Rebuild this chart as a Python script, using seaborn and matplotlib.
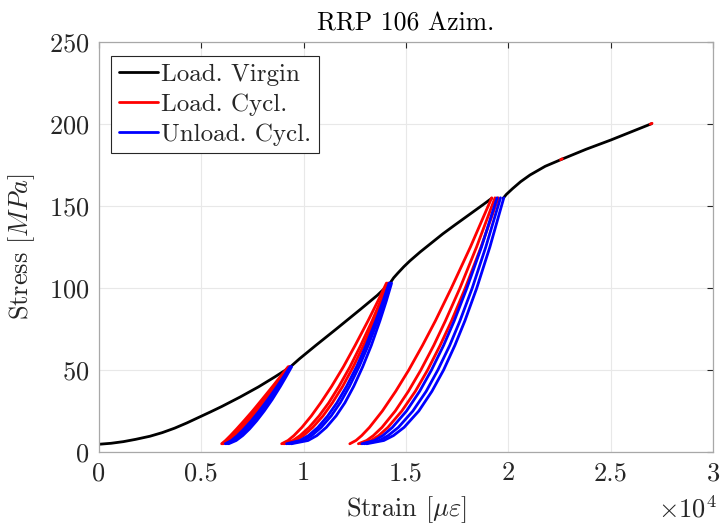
import matplotlib
matplotlib.use("Agg")
import matplotlib.pyplot as plt
import seaborn as sns
import pandas as pd

# strain in units of 1e4 micro-strain, stress in MPa

# virgin loading curve, split where the cyclic loops are
virgin_strain = [
    [0.0, 0.06, 0.12, 0.18, 0.25, 0.31, 0.37, 0.43, 0.49, 0.545, 0.60, 0.69, 0.78, 0.86, 0.933],
    [0.933, 0.98, 1.06, 1.16, 1.28, 1.36, 1.422],
    [1.422, 1.44, 1.46, 1.49, 1.52, 1.57, 1.62, 1.68, 1.74, 1.79, 1.84, 1.88, 1.919],
    [1.975, 1.99, 2.02, 2.06, 2.106, 2.18, 2.261, 2.38, 2.5, 2.6, 2.70],
]
virgin_stress = [
    [4.7, 5.3, 6.3, 7.7, 9.6, 11.8, 14.5, 17.7, 21.2, 24.4, 27.7, 33.5, 39.7, 45.8, 51.6],
    [51.6, 56.8, 65.0, 75.0, 87.2, 95.5, 102.9],
    [102.9, 106.2, 109.0, 113.0, 116.6, 122.0, 127.0, 133.0, 138.5, 143.0, 147.5, 151.1, 154.7],
    [154.7, 157.0, 160.5, 164.8, 168.9, 174.2, 178.5, 184.6, 190.2, 195.2, 200.2],
]

# cycle group 1 (peak ~52 MPa)
stress_g1 = [5, 7, 10, 14, 19, 25, 32, 40, 46, 52]
load_g1 = [
    [0.600, 0.619, 0.643, 0.673, 0.709, 0.751, 0.797, 0.849, 0.887, 0.925],
    [0.604, 0.626, 0.653, 0.684, 0.721, 0.762, 0.808, 0.858, 0.894, 0.930],
    [0.608, 0.634, 0.662, 0.695, 0.732, 0.773, 0.817, 0.865, 0.900, 0.934],
]
unload_g1 = [
    [0.618, 0.648, 0.677, 0.709, 0.745, 0.784, 0.826, 0.871, 0.903, 0.934],
    [0.626, 0.659, 0.690, 0.722, 0.758, 0.796, 0.837, 0.879, 0.909, 0.938],
    [0.634, 0.671, 0.703, 0.736, 0.771, 0.808, 0.847, 0.887, 0.915, 0.942],
]

# cycle group 2 (peak ~103 MPa)
stress_g2 = [5, 7, 10, 15, 22, 30, 40, 52, 65, 80, 92, 103]
load_g2 = [
    [0.893, 0.924, 0.953, 0.992, 1.038, 1.084, 1.137, 1.195, 1.252, 1.315, 1.363, 1.405],
    [0.900, 0.948, 0.983, 1.027, 1.076, 1.123, 1.173, 1.227, 1.279, 1.335, 1.376, 1.412],
    [0.906, 0.962, 1.000, 1.045, 1.095, 1.141, 1.191, 1.243, 1.293, 1.345, 1.384, 1.418],
]
unload_g2 = [
    [0.917, 0.983, 1.024, 1.070, 1.118, 1.163, 1.210, 1.259, 1.305, 1.353, 1.388, 1.418],
    [0.928, 0.999, 1.040, 1.086, 1.135, 1.179, 1.224, 1.271, 1.316, 1.362, 1.395, 1.424],
    [0.940, 1.022, 1.065, 1.111, 1.159, 1.202, 1.245, 1.289, 1.331, 1.373, 1.404, 1.430],
]

# cycle group 3 (peak ~155 MPa)
stress_g3 = [5, 7, 10, 15, 25, 37, 50, 65, 80, 100, 125, 155]
load_g3 = [
    [1.226, 1.256, 1.284, 1.322, 1.385, 1.450, 1.514, 1.581, 1.644, 1.722, 1.815, 1.919],
    [1.268, 1.308, 1.341, 1.383, 1.448, 1.512, 1.573, 1.636, 1.693, 1.764, 1.845, 1.935],
    [1.280, 1.330, 1.367, 1.412, 1.480, 1.546, 1.606, 1.667, 1.723, 1.790, 1.867, 1.951],
]
unload_g3 = [
    [1.285, 1.346, 1.387, 1.434, 1.503, 1.567, 1.625, 1.684, 1.736, 1.798, 1.869, 1.945],
    [1.296, 1.370, 1.413, 1.463, 1.534, 1.599, 1.656, 1.714, 1.764, 1.824, 1.890, 1.962],
    [1.308, 1.392, 1.439, 1.491, 1.563, 1.627, 1.684, 1.739, 1.788, 1.846, 1.910, 1.978],
]

# tiny red bits on the virgin curve
blip_strain = [[2.255, 2.264], [2.693, 2.702]]
blip_stress = [[178.2, 178.8], [199.9, 200.4]]

x_ticks = [0, 0.5, 1, 1.5, 2, 2.5, 3]
x_tick_labels = ["0", "0.5", "1", "1.5", "2", "2.5", "3"]
y_ticks = [0, 50, 100, 150, 200, 250]

kinds = ["Load. Virgin", "Load. Cycl.", "Unload. Cycl."]
colors = ["#000000", "#ff0000", "#0000ff"]

# build a long table: one row per point
rows = []


def add_curve(kind, name, xs, ys):
    for x, y in zip(xs, ys):
        rows.append({"strain": x, "stress": y, "kind": kind, "curve": name})


for k, (xs, ys) in enumerate(zip(virgin_strain, virgin_stress)):
    add_curve(kinds[0], f"v{k}", xs, ys)
for g, (stress, loads, unloads) in enumerate([(stress_g1, load_g1, unload_g1),
                                              (stress_g2, load_g2, unload_g2),
                                              (stress_g3, load_g3, unload_g3)]):
    for c, xs in enumerate(loads):
        add_curve(kinds[1], f"l{g}{c}", xs, stress)
    for c, xs in enumerate(unloads):
        add_curve(kinds[2], f"u{g}{c}", xs, stress)
for k, (xs, ys) in enumerate(zip(blip_strain, blip_stress)):
    add_curve(kinds[1], f"b{k}", xs, ys)

df = pd.DataFrame(rows)

sns.set_style("white")
plt.rcParams["font.family"] = ["cmr10", "DejaVu Serif"]
plt.rcParams["mathtext.fontset"] = "cm"
plt.rcParams["axes.formatter.use_mathtext"] = True
plt.rcParams["axes.unicode_minus"] = False

fig = plt.figure(figsize=(7.21, 5.29), dpi=100)
ax = fig.add_axes([0.137, 0.1456, 0.852, 0.775])

sns.lineplot(data=df, x="strain", y="stress", hue="kind", hue_order=kinds,
             palette=colors, units="curve", estimator=None, sort=False,
             linewidth=2.0, ax=ax)

ax.set_xlim(0, 3)
ax.set_ylim(0, 250)
ax.set_xticks(x_ticks)
ax.set_xticklabels(x_tick_labels)
ax.set_yticks(y_ticks)
ax.grid(True, color="#e8e8e8", linewidth=0.8)
ax.set_axisbelow(True)
ax.tick_params(direction="in", length=4, width=0.8, top=True, right=True,
               labelsize=19, colors="#262626", pad=7)
for s in ax.spines.values():
    s.set_color("#a8a8a8")
    s.set_linewidth(0.9)

ax.set_xlabel(r"Strain [$\mu\varepsilon$]", fontsize=19, color="#262626", labelpad=6)
ax.set_ylabel(r"Stress [$MPa$]", fontsize=19, color="#262626", labelpad=8)
ax.set_title("RRP 106 Azim.", fontsize=18.5, color="#000000", pad=8)

fig.text(0.994, 0.012, r"$\times10^{4}$", ha="right", va="bottom",
         fontsize=19, color="#262626")

leg = ax.legend(loc="upper left", bbox_to_anchor=(0.0207, 0.9666), borderaxespad=0,
                fontsize=18, handlelength=1.55, handletextpad=0.15,
                labelspacing=0.3, borderpad=0.3, fancybox=False, framealpha=1)
leg.get_frame().set_edgecolor("#262626")
leg.get_frame().set_linewidth(0.8)
for line in leg.get_lines():
    line.set_linewidth(2)

fig.savefig("out.png", dpi=100)
